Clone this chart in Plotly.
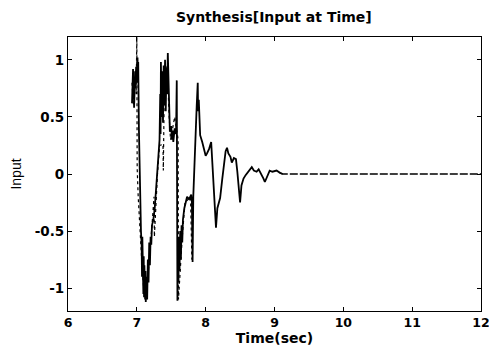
import plotly.graph_objects as go

# Main (solid) input trace: time [s] and value
t_solid = [6.93, 6.935, 6.94, 6.945, 6.95, 6.955, 6.96, 6.965, 6.97, 6.975, 6.98, 6.99,
           7.00, 7.01, 7.015, 7.02, 7.03, 7.04, 7.05, 7.06, 7.07, 7.075, 7.08, 7.085,
           7.09, 7.095, 7.10, 7.105, 7.11, 7.12, 7.125, 7.13, 7.14, 7.15, 7.16, 7.17,
           7.18, 7.19, 7.20, 7.21, 7.22, 7.24, 7.26, 7.28, 7.30, 7.32, 7.33, 7.34,
           7.345, 7.35, 7.36, 7.37, 7.38, 7.39, 7.40, 7.41, 7.42, 7.43, 7.44, 7.45,
           7.46, 7.47, 7.48, 7.50, 7.51, 7.52, 7.53, 7.55, 7.57, 7.58, 7.585, 7.59,
           7.60, 7.605, 7.61, 7.62, 7.63, 7.64, 7.65, 7.66, 7.67, 7.69, 7.71, 7.73,
           7.76, 7.79, 7.80, 7.81, 7.82, 7.84, 7.86, 7.87, 7.885, 7.89, 7.90, 7.92,
           7.95, 7.97, 8.00, 8.02, 8.05, 8.08, 8.10, 8.12, 8.14, 8.15, 8.17, 8.19,
           8.21, 8.24, 8.27, 8.29, 8.31, 8.33, 8.36, 8.38, 8.41, 8.44, 8.46, 8.48,
           8.50, 8.52, 8.55, 8.58, 8.62, 8.65, 8.67, 8.70, 8.74, 8.77, 8.80, 8.84,
           8.86, 8.89, 8.93, 8.97, 9.03, 9.08, 9.12]
u_solid = [0.62, 0.88, 0.70, 0.92, 0.66, 0.85, 0.58, 0.80, 0.72, 0.90, 0.76, 0.94,
           0.80, 1.02, 0.85, 0.98, 0.40, -0.05, -0.30, -0.50, -0.62, -0.90, -0.55, -0.98,
           -0.70, -1.05, -0.72, -1.08, -0.80, -1.10, -0.85, -1.12, -0.90, -1.10, -0.75, -0.95,
           -0.60, -0.80, -0.55, -0.62, -0.45, -0.40, -0.30, -0.10, 0.05, 0.20, 0.30, 0.70,
           0.35, 0.98, 0.50, 0.90, 0.45, 0.95, 0.60, 1.00, 0.55, 0.92, 0.70, 1.06,
           0.80, 0.45, 0.37, 0.42, 0.30, 0.38, 0.28, 0.40, 0.35, 0.82, -0.20, -1.11,
           -0.60, -0.95, -0.55, -0.85, -0.50, -0.75, -0.45, -0.60, -0.40, -0.30, -0.25, -0.20,
           -0.22, -0.18, -0.25, -0.77, -0.20, 0.20, 0.46, 0.60, 0.80, 0.55, 0.65, 0.34,
           0.28, 0.23, 0.16, 0.18, 0.22, 0.28, 0.05, -0.25, -0.40, -0.47, -0.30, -0.25,
           -0.21, -0.05, 0.10, 0.20, 0.23, 0.18, 0.15, 0.10, 0.14, 0.13, 0.02, -0.15,
           -0.25, -0.10, -0.04, -0.01, 0.02, 0.05, 0.06, 0.03, 0.02, 0.04, 0.01, -0.04,
           -0.07, -0.02, 0.03, 0.02, 0.03, 0.01, 0.00]

# Secondary (dashed) trace
t_dash = [6.93, 6.95, 6.97, 6.99, 7.00, 7.005, 7.02, 7.04, 7.06, 7.08, 7.10, 7.13,
          7.16, 7.19, 7.22, 7.25, 7.255, 7.30, 7.33, 7.38, 7.385, 7.40, 7.44, 7.47,
          7.49, 7.55, 7.60, 7.605, 7.63, 7.66, 7.70, 7.78, 7.80]
u_dash = [0.80, 0.60, 0.85, 0.70, 1.20, 0.05, -0.20, -0.45, -0.70, -0.85, -1.00, -1.08,
          -0.90, -0.70, -0.45, -0.20, -0.55, 0.00, 0.25, 0.26, 0.03, 0.80, 0.95, 0.50,
          0.30, 0.50, 0.30, -1.10, -0.80, -0.55, -0.25, -0.20, -0.75]

# Settled tail (dashed)
t_tail = [9.08, 9.12, 9.3, 10.0, 11.0, 12.0]
u_tail = [0.01, 0.00, 0.00, 0.00, 0.00, 0.00]

x_ticks = [6, 7, 8, 9, 10, 11, 12]
y_ticks = [-1, -0.5, 0, 0.5, 1]
y_tick_labels = ["-1", "-0.5", "0", "0.5", "1"]

fig = go.Figure()
fig.add_trace(go.Scatter(x=t_dash, y=u_dash, mode="lines",
                         line=dict(color="black", width=1.2, dash="dot"), showlegend=False))
fig.add_trace(go.Scatter(x=t_solid, y=u_solid, mode="lines",
                         line=dict(color="black", width=1.8), showlegend=False))
fig.add_trace(go.Scatter(x=t_tail, y=u_tail, mode="lines",
                         line=dict(color="black", width=1.3, dash="8px,2px"), showlegend=False))

bold_font = "DejaVu Sans, Arial, sans-serif"
fig.update_layout(
    width=489, height=348,
    margin=dict(l=68, r=8, t=37, b=37),
    paper_bgcolor="white", plot_bgcolor="white",
    title=dict(text="<b>Synthesis[Input at Time]</b>", x=0.56, xanchor="center",
               y=1 - 17 / 348, yanchor="middle", yref="container",
               font=dict(family=bold_font, size=14, color="black")),
    font=dict(family=bold_font, color="black"),
)
fig.update_xaxes(range=[6, 12], tickvals=x_ticks, ticktext=[f"<b>{v}</b>" for v in x_ticks],
                 ticks="inside", ticklen=4, tickcolor="black", showline=True, linecolor="black",
                 linewidth=1.2, mirror="allticks", showgrid=False, zeroline=False,
                 ticklabeloverflow="allow", automargin=False,
                 tickfont=dict(size=12.5, family=bold_font),
                 title=dict(text="<b>Time(sec)</b>", standoff=2,
                            font=dict(size=14, family=bold_font)))
fig.update_yaxes(range=[-1.2, 1.2], tickvals=y_ticks,
                 ticktext=[f"<b>{s}</b>" for s in y_tick_labels],
                 ticks="inside", ticklen=4, tickcolor="black", showline=True, linecolor="black",
                 linewidth=1.2, mirror="allticks", showgrid=False, zeroline=False,
                 automargin=False,
                 tickfont=dict(size=13.5, family=bold_font),
                 title=dict(text="Input", standoff=9,
                            font=dict(size=14, family="Liberation Sans, Arial, sans-serif")))

fig.write_html("out.html", config={"displayModeBar": False},
               post_script="document.body.style.margin='0';")
